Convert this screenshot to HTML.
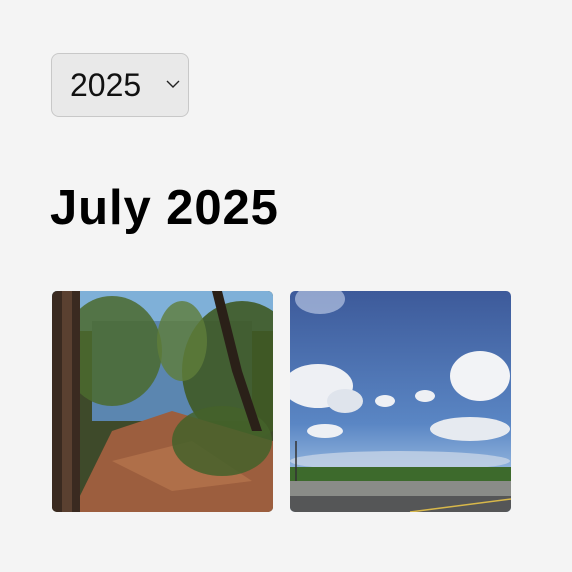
<!DOCTYPE html>
<html><head><meta charset="utf-8"><style>
html,body{margin:0;padding:0;width:572px;height:572px;background:#f4f4f4;overflow:hidden;font-family:"Liberation Sans",Arial,sans-serif}
.sel{position:absolute;left:51px;top:53px;width:136px;height:62px;border:1px solid #c8c8c8;border-radius:8px;background:#e9e9e9;box-sizing:content-box}
.sel span{position:absolute;left:18px;top:13px;font-size:32px;color:#111}
.sel svg{position:absolute;left:113px;top:25px}
h1{position:absolute;left:50px;top:180px;margin:0;font-size:49px;font-weight:700;color:#000;letter-spacing:0.9px}
.ph{position:absolute;top:291px;width:221px;height:221px;border-radius:5px;overflow:hidden}
</style></head><body>
<div class="sel"><span>2025</span>
<svg width="16" height="10" viewBox="0 0 16 10"><path d="M2 2 L8 8 L14 2" fill="none" stroke="#222" stroke-width="1.4"/></svg></div>
<h1>July 2025</h1>
<div class="ph" style="left:52px">
<svg width="221" height="221" viewBox="0 0 221 221">
<rect width="221" height="221" fill="#3e4a2a"/>
<rect x="0" y="0" width="221" height="40" fill="#7fb0d8"/>
<rect x="40" y="30" width="160" height="100" fill="#5b86b0"/>
<ellipse cx="60" cy="60" rx="50" ry="55" fill="#4b6a2e" opacity="0.85"/>
<ellipse cx="190" cy="80" rx="60" ry="70" fill="#3f5a25" opacity="0.9"/>
<ellipse cx="130" cy="50" rx="25" ry="40" fill="#5f7d3a" opacity="0.8"/>
<path d="M20 221 L60 140 L120 120 L221 150 L221 221 Z" fill="#9c5e3e"/>
<path d="M60 170 L140 150 L200 190 L120 200 Z" fill="#b8764f" opacity="0.7"/>
<ellipse cx="170" cy="150" rx="50" ry="35" fill="#44612a" opacity="0.85"/>
<rect x="0" y="0" width="28" height="221" fill="#3a2a20"/>
<rect x="10" y="0" width="10" height="221" fill="#5a4030"/>
<path d="M170 0 L190 80 L210 140 L200 140 L180 80 L160 0Z" fill="#2a2018"/>
</svg></div>
<div class="ph" style="left:290px">
<svg width="221" height="221" viewBox="0 0 221 221">
<defs><linearGradient id="sk" x1="0" y1="0" x2="0" y2="1"><stop offset="0" stop-color="#3d5a9a"/><stop offset="0.6" stop-color="#5a86c4"/><stop offset="0.8" stop-color="#8fb2dc"/></linearGradient></defs>
<rect width="221" height="221" fill="url(#sk)"/>
<ellipse cx="30" cy="8" rx="25" ry="15" fill="#c9d6ef" opacity="0.6"/>
<ellipse cx="28" cy="95" rx="35" ry="22" fill="#eef0f4"/>
<ellipse cx="55" cy="110" rx="18" ry="12" fill="#dfe4ec"/>
<ellipse cx="190" cy="85" rx="30" ry="25" fill="#f2f3f6"/>
<ellipse cx="95" cy="110" rx="10" ry="6" fill="#eef0f4"/>
<ellipse cx="135" cy="105" rx="10" ry="6" fill="#eef0f4"/>
<ellipse cx="35" cy="140" rx="18" ry="7" fill="#eef0f4"/>
<ellipse cx="180" cy="138" rx="40" ry="12" fill="#e6eaf0"/>
<ellipse cx="110" cy="170" rx="110" ry="10" fill="#c6d3e6" opacity="0.8"/>
<rect x="0" y="176" width="221" height="14" fill="#3d6a2c"/>
<rect x="0" y="190" width="221" height="15" fill="#8a8c88"/>
<rect x="0" y="205" width="221" height="16" fill="#555657"/>
<line x1="120" y1="221" x2="221" y2="208" stroke="#d8b84a" stroke-width="1.5"/>
<line x1="6" y1="150" x2="6" y2="190" stroke="#333" stroke-width="1.5"/>
</svg></div>
</body></html>
